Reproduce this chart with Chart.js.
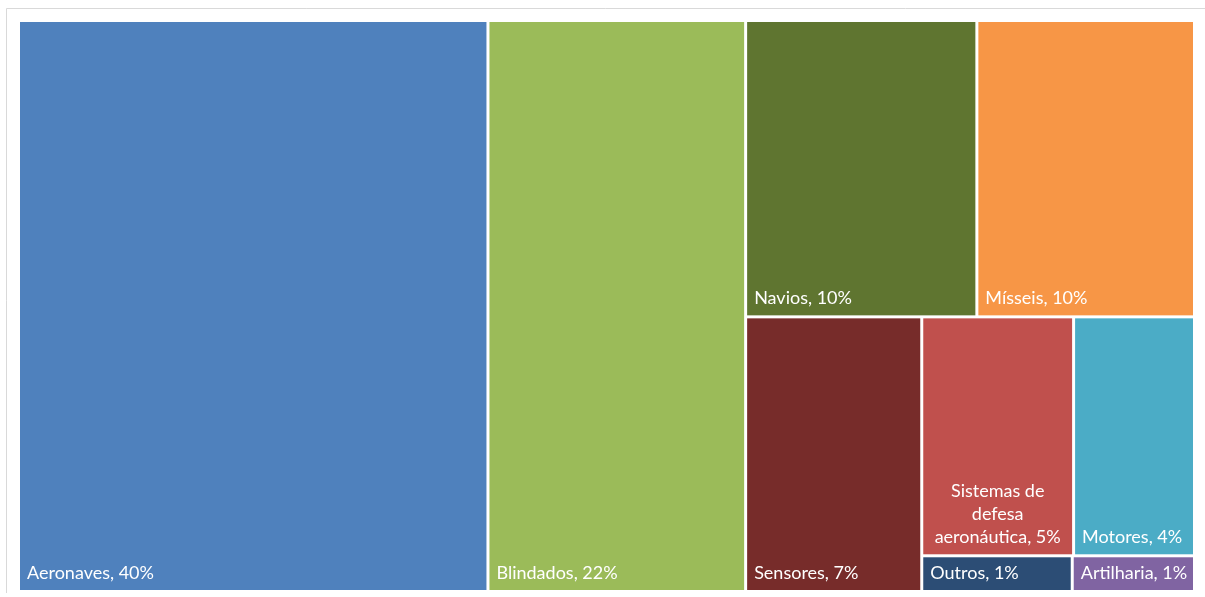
<!DOCTYPE html>
<html>
<head>
<meta charset="utf-8">
<script src="https://cdn.jsdelivr.net/npm/chart.js@4/dist/chart.umd.min.js"></script>
<style>
    html, body { margin: 0; padding: 0; background: #ffffff; }
    #wrap { position: relative; width: 1205px; height: 597px; }
</style>
</head>
<body>
<div id="wrap"><canvas id="treemap" width="1205" height="597"></canvas></div>
<script>
const categories = ['Aeronaves', 'Blindados', 'Navios', 'Mísseis', 'Sensores',
    'Sistemas de defesa aeronáutica', 'Motores', 'Outros', 'Artilharia'];
const values = [39.9, 21.9, 10.2, 9.6, 7.2, 5.4, 4.3, 0.8, 0.65];
const colors = ['#4f81bd', '#9bbb59', '#5f7530', '#f79646', '#772c2a',
    '#c0504d', '#4bacc6', '#2c4d75', '#8064a2'];

// how Excel nested the tiles: 'h' = side by side, 'v' = stacked
const layoutTree = ['h', 0, 1, ['v', ['h', 2, 3], ['h', 4, ['v', ['h', 5, 6], ['h', 7, 8]]]]];

const total = values.reduce((a, b) => a + b, 0);

function nodeSum(node) {
    if (typeof node === 'number') {
        return values[node];
    }
    return node.slice(1).reduce((s, child) => s + nodeSum(child), 0);
}

function layout(node, x0, y0, x1, y1, out) {
    if (typeof node === 'number') {
        out.push({ index: node, x0, y0, x1, y1 });
        return out;
    }
    const dir = node[0];
    const children = node.slice(1);
    const sum = nodeSum(node);
    let pos = dir === 'h' ? x0 : y0;
    children.forEach((child) => {
        const share = nodeSum(child) / sum;
        if (dir === 'h') {
            const next = pos + (x1 - x0) * share;
            layout(child, pos, y0, next, y1, out);
            pos = next;
        } else {
            const next = pos + (y1 - y0) * share;
            layout(child, x0, pos, x1, next, out);
            pos = next;
        }
    });
    return out;
}

function wrapWords(ctx, text, maxWidth) {
    const words = text.split(' ');
    const lines = [];
    let line = '';
    words.forEach((word) => {
        const test = line ? line + ' ' + word : word;
        if (ctx.measureText(test).width > maxWidth && line) {
            lines.push(line);
            line = word;
        } else {
            line = test;
        }
    });
    if (line) {
        lines.push(line);
    }
    return lines;
}

const treemapPlugin = {
    id: 'treemapTiles',
    beforeDraw(chart) {
        const { ctx } = chart;
        ctx.save();
        ctx.fillStyle = '#ffffff';
        ctx.fillRect(0, 0, chart.width, chart.height);
        ctx.strokeStyle = '#d9d9d9';
        ctx.lineWidth = 1;
        ctx.beginPath();
        ctx.moveTo(6.5, 593);
        ctx.lineTo(6.5, 8.5);
        ctx.lineTo(chart.width, 8.5);
        ctx.stroke();
        ctx.restore();
    },
    afterDatasetsDraw(chart) {
        const { ctx } = chart;
        const xs = chart.scales.x;
        const ys = chart.scales.y;
        const tiles = layout(layoutTree, 0, 0, 100, 100, []);
        const gap = 1.5;
        ctx.save();
        ctx.font = '18px Lato';
        ctx.textBaseline = 'alphabetic';
        tiles.forEach((t) => {
            const left = xs.getPixelForValue(t.x0) + gap;
            const right = xs.getPixelForValue(t.x1) - gap;
            const top = ys.getPixelForValue(t.y0) + gap;
            const bottom = ys.getPixelForValue(t.y1) - gap;
            ctx.fillStyle = colors[t.index];
            ctx.fillRect(left, top, right - left, bottom - top);

            const label = categories[t.index] + ', ' + Math.round(values[t.index] / total * 100) + '%';
            const w = right - left;
            ctx.fillStyle = '#ffffff';
            const baseline = bottom - 11;
            if (ctx.measureText(label).width <= w - 12) {
                ctx.textAlign = 'left';
                ctx.fillText(label, left + 7, baseline);
            } else {
                const lines = wrapWords(ctx, label, w - 16);
                const lineHeight = 23;
                ctx.textAlign = 'center';
                lines.forEach((line, i) => {
                    ctx.fillText(line, (left + right) / 2, baseline - (lines.length - 1 - i) * lineHeight);
                });
            }
        });
        ctx.restore();
    }
};

new Chart(document.getElementById('treemap').getContext('2d'), {
    type: 'scatter',
    data: {
        datasets: [{ label: 'Treemap', data: [], pointRadius: 0 }]
    },
    options: {
        responsive: false,
        animation: false,
        layout: {
            padding: { left: 18.5, right: 10.5, top: 20.5, bottom: 5.5 }
        },
        plugins: {
            legend: { display: false },
            tooltip: { enabled: false }
        },
        scales: {
            x: { type: 'linear', min: 0, max: 100, display: false },
            y: { type: 'linear', min: 0, max: 100, reverse: true, display: false }
        }
    },
    plugins: [treemapPlugin]
});
</script>
</body>
</html>
